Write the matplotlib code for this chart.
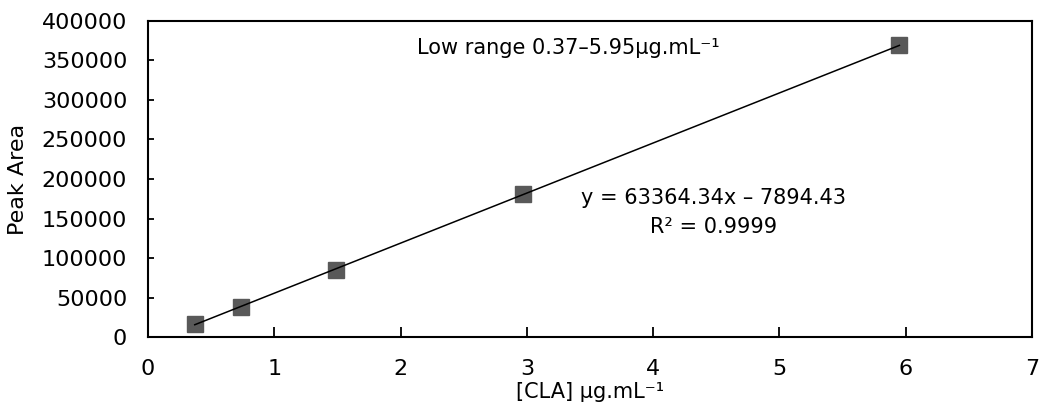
"""
Calibration curve for CLA, low concentration range.
"""
import numpy as np
import matplotlib
matplotlib.use("Agg")
import matplotlib.pyplot as plt

# concentration (ug/mL) and measured peak areas
conc = [0.37, 0.74, 1.49, 2.97, 5.95]
peak_area = [16200, 38600, 85000, 180500, 369800]

# trendline reported on the chart
slope = 63364.34
intercept = -7894.43
r_squared = 0.9999

x_ticks = [0, 1, 2, 3, 4, 5, 6, 7]
y_ticks = [0, 50000, 100000, 150000, 200000, 250000, 300000, 350000, 400000]

plt.rcParams['font.family'] = ['DejaVu Sans']

fig = plt.figure(figsize=(10.44, 4.09), dpi=100)
ax = fig.add_axes([0.1418, 0.176, 0.8467, 0.7727])

# trendline across the data range
xs = np.array([min(conc), max(conc)])
ax.plot(xs, slope * xs + intercept, color='black', lw=1.1, zorder=3)

ax.plot(conc, peak_area, linestyle='none', marker='s', markersize=11.5,
        color='#595959', markeredgecolor='#595959', zorder=2)

ax.set_xlim(0, 7)
ax.set_ylim(0, 400000)
ax.set_xticks(x_ticks)
ax.set_yticks(y_ticks)
ax.tick_params(axis='both', direction='in', labelsize=16, colors='black')
ax.tick_params(axis='x', length=7, width=1.3, pad=16)
ax.tick_params(axis='y', length=4, width=1.3, pad=15)
for sp in ax.spines.values():
    sp.set_linewidth(1.5)
    sp.set_color('black')

ax.set_ylabel('Peak Area', fontsize=16, labelpad=10)
ax.set_xlabel('[CLA] μg.mL⁻¹', fontsize=15, labelpad=2)

ax.text(0.475, 0.915, 'Low range 0.37–5.95μg.mL⁻¹', transform=ax.transAxes,
        ha='center', va='center', fontsize=15)
ax.text(0.64, 0.395, f'y = {slope:.2f}x – {abs(intercept):.2f}\nR² = {r_squared}',
        transform=ax.transAxes, ha='center', va='center', fontsize=15,
        linespacing=1.55)

fig.savefig('out.png', dpi=100)
